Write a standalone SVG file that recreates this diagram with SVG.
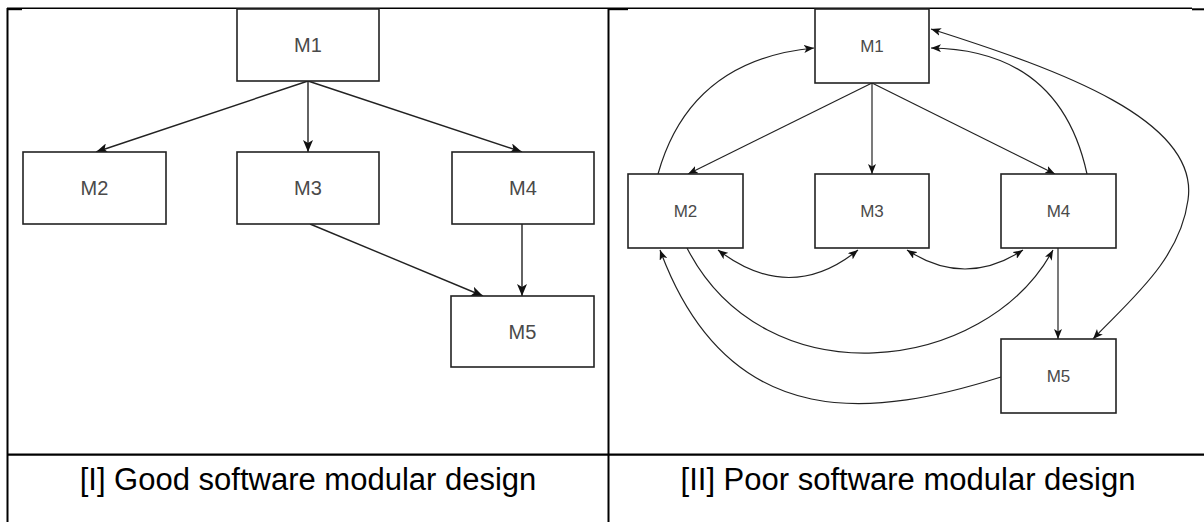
<svg xmlns="http://www.w3.org/2000/svg" width="1204" height="522" viewBox="0 0 1204 522">
<style>
.box{fill:#fff;stroke:#222;stroke-width:1.6}
.lbl{font-family:"Liberation Sans",Arial,sans-serif;fill:#4a4a4a;text-anchor:middle}
.lbl1{font-size:20px}
.lbl2{font-size:17px}
.cap{font-family:"Liberation Sans",Arial,sans-serif;font-size:31px;fill:#000;text-anchor:middle}
.tb{stroke:#000;fill:none}
.c1{fill:none;stroke:#222;stroke-width:1.4;marker-end:url(#arrL)}
.c2{fill:none;stroke:#222;stroke-width:1.2;marker-end:url(#arrS)}
.bi{marker-start:url(#arrS)}
</style>
<defs>
<marker id="arrL" viewBox="0 0 12 10" refX="12" refY="5" markerWidth="12" markerHeight="10" markerUnits="userSpaceOnUse" orient="auto-start-reverse">
<path d="M0,0 L12,5 L0,10 L3,5 Z" fill="#111"/>
</marker>
<marker id="arrS" viewBox="0 0 10 8" refX="10" refY="4" markerWidth="10" markerHeight="8" markerUnits="userSpaceOnUse" orient="auto-start-reverse">
<path d="M0,0 L10,4 L0,8 L2.5,4 Z" fill="#111"/>
</marker>
</defs>
<rect width="1204" height="522" fill="#fff"/>
<g id="table">
<line class="tb" x1="7" y1="8.3" x2="1192" y2="8.3" stroke-width="1.6"/>
<line class="tb" x1="7" y1="9.2" x2="22" y2="9.2" stroke-width="2"/>
<line class="tb" x1="608" y1="9.2" x2="628" y2="9.2" stroke-width="2"/>
<line class="tb" x1="1192" y1="9.3" x2="1204" y2="9.3" stroke-width="2"/>
<line class="tb" x1="7.5" y1="8" x2="7.5" y2="522" stroke-width="2"/>
<line class="tb" x1="608.5" y1="8" x2="608.5" y2="522" stroke-width="2"/>
<line class="tb" x1="7" y1="454.7" x2="1204" y2="454.7" stroke-width="2.3"/>
<text class="cap" x="308" y="490">[I] Good software modular design</text>
<text class="cap" x="908" y="490">[II] Poor software modular design</text>
</g>
<g id="connectors">
<path class="c1" d="M308,81 L96,152"/>
<path class="c1" d="M308,81 L308,152"/>
<path class="c1" d="M308,81 L522,152"/>
<path class="c1" d="M310,224 L483,296"/>
<path class="c1" d="M522,224 L522,296"/>
<path class="c2" d="M872,83 L688,174"/>
<path class="c2" d="M872,83 L872,174"/>
<path class="c2" d="M872,83 L1055,174"/>
<path class="c2" d="M658,174 Q690,60 814,48"/>
<path class="c2" d="M1087,174 Q1060,50 931,48"/>
<path class="c2 bi" d="M931,29 C1060,70 1200,120 1188,200 C1180,260 1130,300 1093,339"/>
<path class="c2 bi" d="M718,250 Q790,305 858,250"/>
<path class="c2 bi" d="M907,250 Q965,288 1023,250"/>
<path class="c2" d="M687,248 C765,400 985,375 1053,250"/>
<path class="c2" d="M1001,377 C880,415 730,440 660,250"/>
<path class="c2" d="M1058,248 L1058,339"/>
</g>
<g id="g1-M1"><rect class="box" x="237" y="9" width="142" height="72"/><text class="lbl lbl1" x="308" y="52">M1</text></g>
<g id="g1-M2"><rect class="box" x="23" y="152" width="143" height="72"/><text class="lbl lbl1" x="94.5" y="195">M2</text></g>
<g id="g1-M3"><rect class="box" x="237" y="152" width="142" height="72"/><text class="lbl lbl1" x="308" y="195">M3</text></g>
<g id="g1-M4"><rect class="box" x="452" y="152" width="142" height="72"/><text class="lbl lbl1" x="523" y="195">M4</text></g>
<g id="g1-M5"><rect class="box" x="451" y="296" width="143" height="71"/><text class="lbl lbl1" x="522.5" y="338.5">M5</text></g>
<g id="g2-M1"><rect class="box" x="815" y="9" width="114" height="74"/><text class="lbl lbl2" x="872" y="52">M1</text></g>
<g id="g2-M2"><rect class="box" x="628" y="174" width="115" height="74"/><text class="lbl lbl2" x="685.5" y="217">M2</text></g>
<g id="g2-M3"><rect class="box" x="815" y="174" width="114" height="74"/><text class="lbl lbl2" x="872" y="217">M3</text></g>
<g id="g2-M4"><rect class="box" x="1001" y="174" width="115" height="74"/><text class="lbl lbl2" x="1058.5" y="217">M4</text></g>
<g id="g2-M5"><rect class="box" x="1001" y="339" width="115" height="74"/><text class="lbl lbl2" x="1058.5" y="382">M5</text></g>
</svg>
